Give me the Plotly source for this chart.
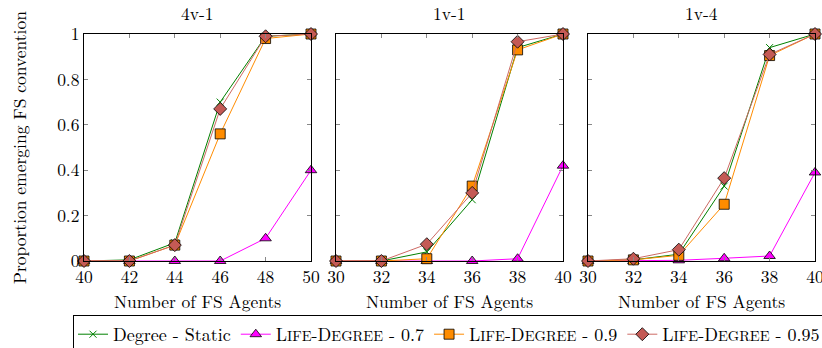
import plotly.graph_objects as go

panel_titles = ["4v-1", "1v-1", "1v-4"]
x_values = [
    [40, 42, 44, 46, 48, 50],
    [30, 32, 34, 36, 38, 40],
    [30, 32, 34, 36, 38, 40],
]
degree_static = [
    [0, 0.005, 0.08, 0.70, 0.99, 1.0],
    [0, 0, 0.04, 0.27, 0.94, 1.0],
    [0, 0.005, 0.03, 0.33, 0.94, 1.0],
]
life_07 = [
    [0, 0, 0, 0, 0.10, 0.40],
    [0, 0, 0, 0, 0.01, 0.42],
    [0, 0, 0.003, 0.012, 0.022, 0.39],
]
life_09 = [
    [0, 0, 0.07, 0.56, 0.98, 1.0],
    [0, 0, 0.01, 0.33, 0.93, 1.0],
    [0, 0.005, 0.025, 0.25, 0.905, 1.0],
]
life_095 = [
    [0, 0, 0.07, 0.67, 0.99, 1.0],
    [0, 0, 0.074, 0.30, 0.966, 1.0],
    [0, 0.01, 0.05, 0.365, 0.91, 1.0],
]
y_tickvals = [0, 0.2, 0.4, 0.6, 0.8, 1]
y_ticktext = ["0", "0.2", "0.4", "0.6", "0.8", "1"]

FONT = "Latin Modern Roman"
FS = 17.5
sc = "font-size:14.5px"
names = [
    "Degree - Static",
    f"L<span style='{sc}'>IFE</span>-D<span style='{sc}'>EGREE</span> - 0.7",
    f"L<span style='{sc}'>IFE</span>-D<span style='{sc}'>EGREE</span> - 0.9",
    f"L<span style='{sc}'>IFE</span>-D<span style='{sc}'>EGREE</span> - 0.95",
]
series = [degree_static, life_07, life_09, life_095]
styles = [
    dict(line=dict(color="#008000", width=1),
         marker=dict(symbol="x-thin", size=7, color="#008000",
                     line=dict(color="#008000", width=1))),
    dict(line=dict(color="#ff00ff", width=1),
         marker=dict(symbol="triangle-up", size=10, color="#ff00ff",
                     line=dict(color="black", width=0.8))),
    dict(line=dict(color="#ff8c00", width=1),
         marker=dict(symbol="square", size=10, color="#ff8c00",
                     line=dict(color="black", width=0.8))),
    dict(line=dict(color="#cd6a64", width=1),
         marker=dict(symbol="diamond", size=10, color="#c45a55",
                     line=dict(color="black", width=0.8))),
]

W, H = 822, 348
x_domains = [[84 / W, 311 / W], [336 / W, 563 / W], [588 / W, 815 / W]]
y_domain = [(H - 261) / H, (H - 34) / H]

fig = go.Figure()
for p in range(3):
    xa = "x" if p == 0 else f"x{p+1}"
    ya = "y" if p == 0 else f"y{p+1}"
    for s in range(4):
        fig.add_trace(go.Scatter(
            x=x_values[p], y=series[s][p], mode="lines+markers",
            name=names[s], showlegend=(p == 0), legendgroup=str(s),
            xaxis=xa, yaxis=ya, cliponaxis=False, **styles[s]))

axis_common = dict(showgrid=False, zeroline=False, showline=True,
                   linecolor="black", linewidth=1, mirror="allticks",
                   ticks="inside", ticklen=4, tickcolor="#888888",
                   automargin=False, ticklabeloverflow="allow",
                   tickfont=dict(family=FONT, size=FS, color="black"))
layout = dict(
    width=W, height=H, margin=dict(l=0, r=0, t=0, b=0, autoexpand=False),
    plot_bgcolor="white", paper_bgcolor="white",
    font=dict(family=FONT, size=FS, color="black"),
    showlegend=True,
    legend=dict(orientation="h", x=73 / W, y=(H - 315) / H,
                xanchor="left", yanchor="top",
                bordercolor="black", borderwidth=1,
                font=dict(family=FONT, size=18, color="black"),
                itemwidth=30, tracegroupgap=0),
)
annotations = []
for p in range(3):
    kx = "xaxis" if p == 0 else f"xaxis{p+1}"
    ky = "yaxis" if p == 0 else f"yaxis{p+1}"
    xv = x_values[p]
    layout[kx] = dict(axis_common, domain=x_domains[p], range=[xv[0], xv[-1]],
                      tickvals=xv, anchor="y" if p == 0 else f"y{p+1}")
    layout[ky] = dict(axis_common, domain=y_domain, range=[0, 1],
                      tickvals=y_tickvals, ticktext=y_ticktext,
                      showticklabels=(p == 0),
                      anchor="x" if p == 0 else f"x{p+1}")
    cx = (x_domains[p][0] + x_domains[p][1]) / 2
    annotations.append(dict(text=panel_titles[p], x=cx, y=(H - 13) / H,
                            xref="paper", yref="paper", showarrow=False,
                            xanchor="center", yanchor="middle",
                            font=dict(family=FONT, size=FS)))
    annotations.append(dict(text="Number of FS Agents", x=cx, y=(H - 300) / H,
                            xref="paper", yref="paper", showarrow=False,
                            xanchor="center", yanchor="middle",
                            font=dict(family=FONT, size=FS)))
annotations.append(dict(text="Proportion emerging FS convention",
                        x=18 / W, y=(H - 148) / H, xref="paper", yref="paper",
                        showarrow=False, textangle=-90,
                        xanchor="center", yanchor="middle",
                        font=dict(family=FONT, size=FS)))
layout["annotations"] = annotations
fig.update_layout(**layout)
fig.write_html("out.html", config={"displayModeBar": False},
               post_script="document.body.style.margin='0';")
